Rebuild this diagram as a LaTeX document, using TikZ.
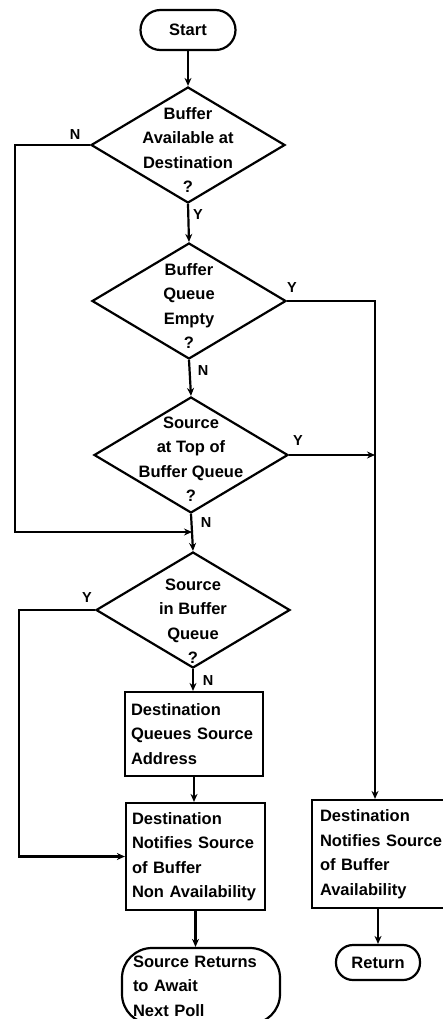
\documentclass[tikz,border=0pt]{standalone}
\usepackage{fontspec}
\setmainfont{Liberation Sans}
\usetikzlibrary{shapes.geometric,arrows.meta}
\begin{document}
\begin{tikzpicture}[x=1pt,y=-1pt, line width=2.2pt,
 every node/.style={font=\fontsize{16.5}{24.5}\selectfont\bfseries},
 dia/.style={draw, diamond, minimum width=194pt, minimum height=116pt, inner sep=0pt},
 qtext/.style={align=center, inner sep=0pt},
 procbox/.style={draw, rectangle, align=left, inner ysep=0pt},
 term/.style={draw, rectangle, rounded corners=#1},
 arr/.style={-{Stealth[length=8pt,width=7pt]}},
 yn/.style={font=\fontsize{14.5}{14.5}\selectfont\bfseries, inner sep=0pt}]
\useasboundingbox (0,0) rectangle (442,1019);

% terminals
\node[term=20pt, minimum width=95pt, minimum height=40pt, inner sep=0pt] (start) at (188,30) {Start};

% decisions
\node[dia] (d1) at (188,145) {};
\node[qtext] (t1) at (188,150) {Buffer\\Available at\\Destination\\?};
\node[dia] (d2) at (189,301) {};
\node[qtext] (t2) at (189,306) {Buffer\\Queue\\Empty\\?};
\node[dia] (d3) at (191,455) {};
\node[qtext] (t3) at (191,459) {Source\\at Top of\\Buffer Queue\\?};
\node[dia] (d4) at (193,610) {};
\node[qtext] (t4) at (193,621) {Source\\in Buffer\\Queue\\?};

% process boxes
\node[procbox, text width=126pt, inner xsep=6pt, minimum height=84pt] (box1) at (194,734) {Destination\\Queues Source\\Address};
\node[procbox, text width=127pt, inner xsep=6pt, minimum height=107pt] (box2) at (195.5,856.5) {Destination\\Notifies Source\\of Buffer\\Non Availability};
\node[procbox, text width=124pt, inner xsep=8pt, minimum height=108pt] (rbox) at (382,854) {Destination\\Notifies Source\\of Buffer\\Availability};

\node[term=30pt, align=left, text width=136pt, inner xsep=11pt, inner ysep=0pt, minimum height=76pt] (term2) at (201,986) {Source Returns\\to Await\\Next Poll};
\node[term=17pt, minimum width=84pt, minimum height=35pt, inner sep=0pt] (ret) at (378,962.5) {Return};

% labels
\node[yn] (n1) at (75,135) {N};
\node[yn] (y1) at (198,215) {Y};
\node[yn] (y2) at (292,288) {Y};
\node[yn] (n2) at (203,371) {N};
\node[yn] (y3) at (298,441) {Y};
\node[yn] (n3) at (206,523) {N};
\node[yn] (y4) at (87,598) {Y};
\node[yn] (n4) at (208,681) {N};

% helper coordinates
\coordinate (j) at (192,532);
\coordinate (lx) at (15,0);
\coordinate (lx2) at (19,0);
\coordinate (rx) at (375,0);

% connectors
\draw[arr] (start.south) -- (d1.north);
\draw[arr] (d1.south) -- (d2.north);
\draw[arr] (d2.south) -- (d3.north);
\draw (d3.south) -- (j);
\draw[arr] (j) -- (d4.north);
\draw[arr] (d1.west) -| (lx |- j) -- (j);
\draw[arr] (d2.east) -| (rx |- rbox.north);
\draw[arr] (d3.east) -- (rx |- d3.east);
\draw[arr] (d4.west) -| (lx2 |- box2.west) -- (box2.west);
\draw[arr] (d4.south) -- (d4.south |- box1.north);
\draw[arr] (box1.south) -- (box1.south |- box2.north);
\draw[arr] (box2.south) -- (box2.south |- term2.north);
\draw[arr] (ret.north |- rbox.south) -- (ret.north);
\end{tikzpicture}
\end{document}
